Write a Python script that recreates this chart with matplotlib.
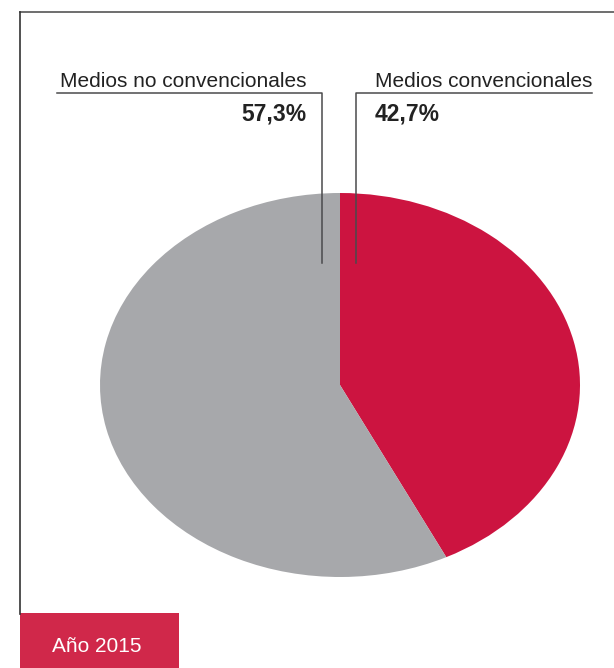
import matplotlib
matplotlib.use("Agg")
import matplotlib.pyplot as plt
from matplotlib.patches import Rectangle

labels = ["Medios convencionales", "Medios no convencionales"]
values = [42.7, 57.3]
colors = ["#CC1440", "#A7A8AB"]
year_label = "Año 2015"

W, H = 614, 668
fig = plt.figure(figsize=(W / 100, H / 100), dpi=100)

# pie (elliptical because the axes is not square)
ax = fig.add_axes([100 / W, 1 - 577 / H, 480 / W, 384 / H])
ax.pie(values, colors=colors, startangle=90, counterclock=False,
       radius=1, wedgeprops=dict(linewidth=0))
ax.set_xlim(-1, 1)
ax.set_ylim(-1, 1)
ax.set_aspect("auto")
ax.axis("off")

# overlay in pixel coords for frame, leader lines and texts
bg = fig.add_axes([0, 0, 1, 1], zorder=5)
bg.set_xlim(0, W)
bg.set_ylim(H, 0)
bg.axis("off")

font = "Liberation Sans"
line_col = "#4A4A4C"
fs = 15

# frame
bg.plot([20, W], [12, 12], color="#555555", lw=1.2)
bg.plot([20, 20], [12, 614], color="#333333", lw=1.2)

# labels
fmt = lambda v: f"{v:.1f}%".replace(".", ",")
bg.text(306, 87, labels[1], ha="right", va="baseline", fontsize=fs,
        family=font, color="#222222")
bg.text(306, 121, fmt(values[1]), ha="right", va="baseline", fontsize=16.5,
        family=font, weight="bold", color="#222222")
bg.plot([57, 322, 322], [93, 93, 263], color=line_col, lw=1.1)

bg.text(375, 87, labels[0], ha="left", va="baseline", fontsize=fs,
        family=font, color="#222222")
bg.text(375, 121, fmt(values[0]), ha="left", va="baseline", fontsize=16.5,
        family=font, weight="bold", color="#222222")
bg.plot([592, 356, 356], [93, 93, 263], color=line_col, lw=1.1)

# year box
bg.add_patch(Rectangle((20, 613), 159, 60, color="#D0284A", lw=0))
bg.text(97, 646, year_label, ha="center", va="center", fontsize=fs,
        family=font, color="white")

fig.savefig("out.png", dpi=100)
